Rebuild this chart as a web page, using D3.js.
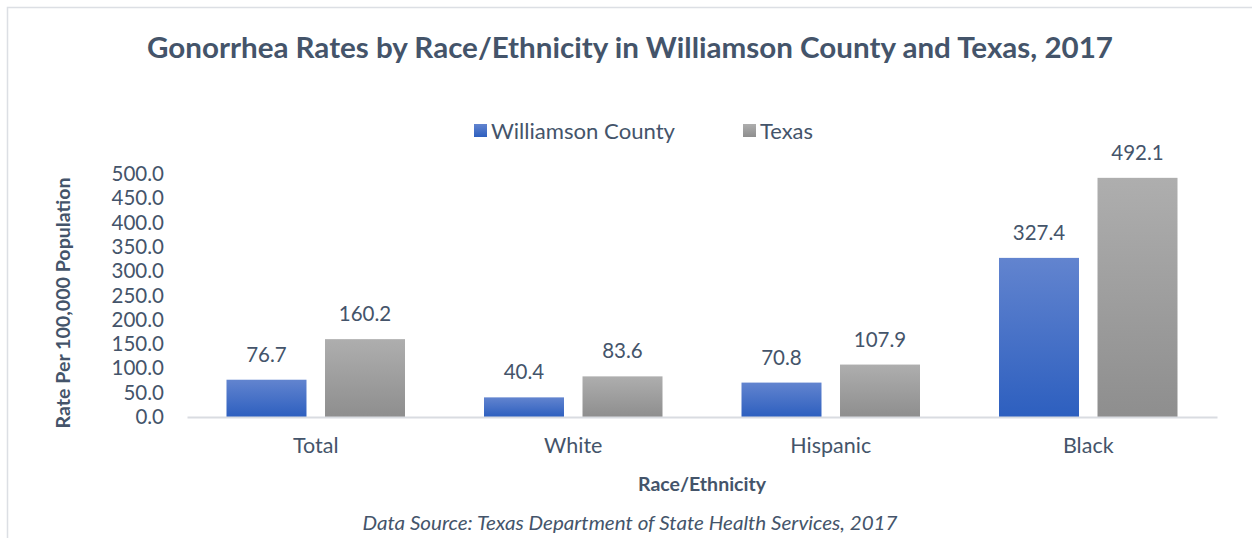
<!DOCTYPE html>
<html>
<head>
<meta charset="utf-8">
<script src="https://cdn.jsdelivr.net/npm/d3@7"></script>
<style>
  html, body { margin: 0; padding: 0; background: #fff; }
  svg { display: block; }
  text { font-family: Lato, "Open Sans", sans-serif; fill: #44546a; }
</style>
</head>
<body>
<svg id="chart" width="1252" height="538"></svg>
<script>
const categories = ["Total", "White", "Hispanic", "Black"];
const seriesNames = ["Williamson County", "Texas"];
const williamson = [76.7, 40.4, 70.8, 327.4];
const texas = [160.2, 83.6, 107.9, 492.1];
const yTicks = [0, 50, 100, 150, 200, 250, 300, 350, 400, 450, 500];
const title = "Gonorrhea Rates by Race/Ethnicity in Williamson County and Texas, 2017";
const yTitle = "Rate Per 100,000 Population";
const xTitle = "Race/Ethnicity";
const source = "Data Source: Texas Department of State Health Services, 2017";

const seriesValues = [williamson, texas];
const svg = d3.select("#chart");
const W = 1252, H = 538;
const margin = {left: 187, right: 35, top: 174, bottom: 121};
const plotW = W - margin.left - margin.right;
const plotH = H - margin.top - margin.bottom;

// gradients
const defs = svg.append("defs");
const gradSpecs = [["g0", "#6284cf", "#2d5fbf"], ["g1", "#aeaeae", "#8e8e8e"]];
gradSpecs.forEach(([id, top, bot]) => {
  const g = defs.append("linearGradient").attr("id", id)
    .attr("x1", 0).attr("y1", 0).attr("x2", 0).attr("y2", 1);
  g.append("stop").attr("offset", "0%").attr("stop-color", top);
  g.append("stop").attr("offset", "100%").attr("stop-color", bot);
});

// border
svg.append("path").attr("d", `M7.5,${H} L7.5,7.5 L${W},7.5`)
  .attr("fill", "none").attr("stroke", "#dcdfe4").attr("stroke-width", 1.5);

const g = svg.append("g").attr("transform", `translate(${margin.left},${margin.top})`);

const x0 = d3.scaleBand().domain(categories).range([0, plotW]).padding(0);
const x1 = d3.scaleBand().domain(seriesNames).range([0, x0.bandwidth()])
  .paddingInner(0.188).paddingOuter(0.401);
const y = d3.scaleLinear().domain([0, 500]).range([plotH, 0]);

// y axis labels
const yAxis = d3.axisLeft(y).tickValues(yTicks).tickFormat(d3.format(".1f")).tickSize(0).tickPadding(23);
const yg = g.append("g").call(yAxis);
yg.select(".domain").remove();
yg.selectAll("text").style("font-family", "Lato, sans-serif").style("font-size", "20.5px")
  .attr("fill", "#44546a");

// bars
const groups = g.selectAll(".grp").data(categories).enter().append("g")
  .attr("transform", d => `translate(${x0(d)},0)`);
seriesNames.forEach((s, si) => {
  groups.append("rect")
    .attr("x", x1(s))
    .attr("width", x1.bandwidth())
    .attr("y", (d, i) => y(seriesValues[si][i]))
    .attr("height", (d, i) => plotH - y(seriesValues[si][i]))
    .attr("fill", `url(#g${si})`);
  groups.append("text")
    .attr("x", x1(s) + x1.bandwidth() / 2)
    .attr("y", (d, i) => y(seriesValues[si][i]) - 18)
    .attr("text-anchor", "middle")
    .style("font-size", "20.5px")
    .text((d, i) => seriesValues[si][i].toFixed(1));
});

// x axis
const xAxis = d3.axisBottom(x0).tickSize(0).tickPadding(21);
const xg = g.append("g").attr("transform", `translate(0,${plotH})`).call(xAxis);
xg.select(".domain").attr("stroke", "#d9dce1").attr("stroke-width", 2);
xg.selectAll("text").style("font-family", "Lato, sans-serif").style("font-size", "21.5px")
  .attr("fill", "#44546a");

// axis titles
svg.append("text")
  .attr("transform", `translate(${margin.left + plotW / 2},491)`)
  .attr("text-anchor", "middle")
  .attr("textLength", 128).attr("lengthAdjust", "spacingAndGlyphs")
  .style("font-size", "18.5px").style("font-weight", "bold")
  .text(xTitle);
svg.append("text")
  .attr("transform", `translate(70,${303}) rotate(-90)`)
  .attr("text-anchor", "middle")
  .attr("textLength", 251).attr("lengthAdjust", "spacingAndGlyphs")
  .style("font-size", "18px").style("font-weight", "bold")
  .text(yTitle);

// title
svg.append("text").attr("x", 630).attr("y", 58).attr("text-anchor", "middle")
  .attr("textLength", 966).attr("lengthAdjust", "spacingAndGlyphs")
  .style("font-size", "28.5px").style("font-weight", "bold")
  .text(title);

// source
svg.append("text").attr("x", 630).attr("y", 530).attr("text-anchor", "middle")
  .attr("textLength", 535).attr("lengthAdjust", "spacingAndGlyphs")
  .style("font-size", "19.5px").style("font-style", "italic")
  .text(source);

// legend
const legendItems = [{name: seriesNames[0], x: 474, w: 184}, {name: seriesNames[1], x: 743, w: 53}];
legendItems.forEach((it, i) => {
  svg.append("rect").attr("x", it.x).attr("y", 124).attr("width", 13).attr("height", 13)
    .attr("fill", `url(#g${i})`);
  svg.append("text").attr("x", it.x + 17).attr("y", 138.5)
    .attr("textLength", it.w).attr("lengthAdjust", "spacingAndGlyphs")
    .style("font-size", "21.5px").text(it.name);
});
</script>
</body>
</html>
